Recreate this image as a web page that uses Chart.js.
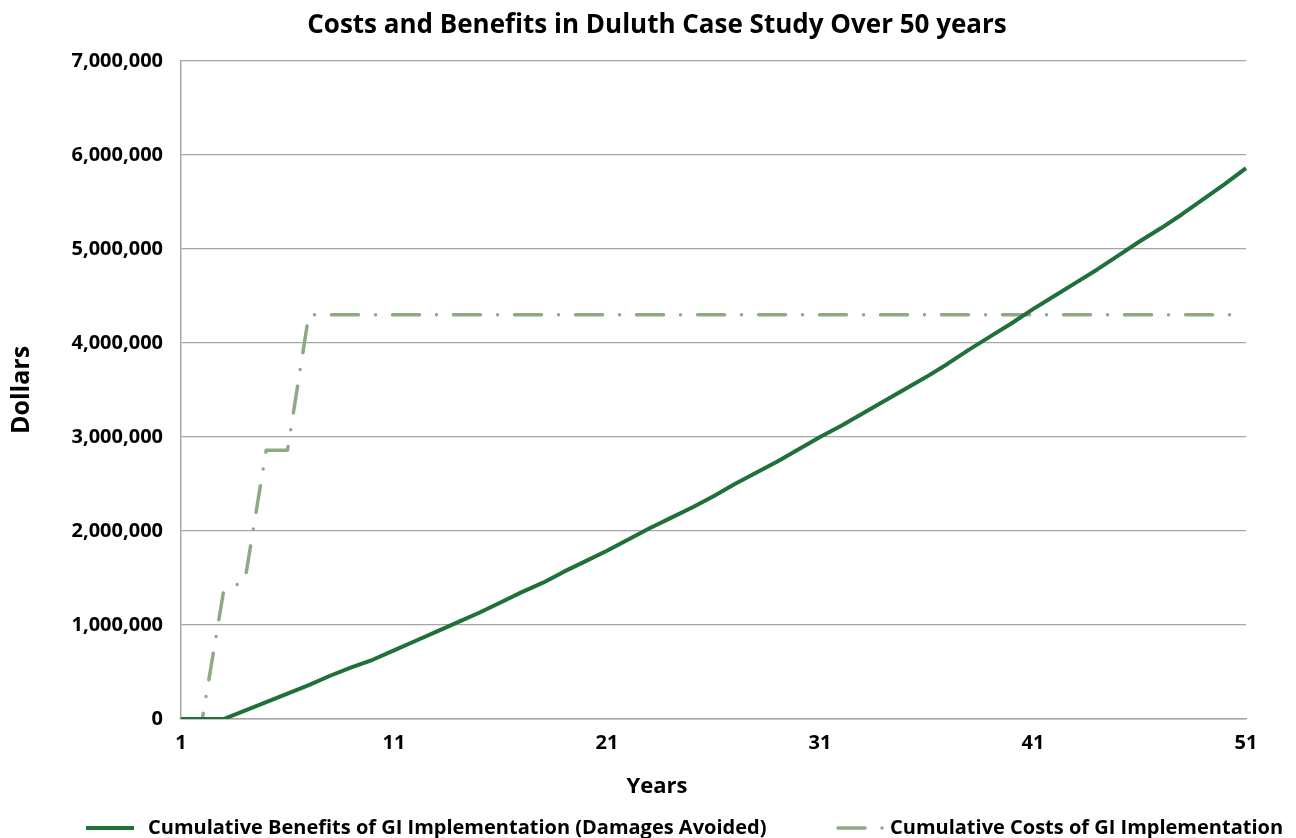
<!DOCTYPE html>
<html>
<head>
<meta charset="utf-8">
<script src="https://cdn.jsdelivr.net/npm/chart.js@4.4.1/dist/chart.umd.min.js"></script>
<style>
  html, body { margin: 0; padding: 0; background: #ffffff; }
  #wrap { width: 1296px; height: 838px; position: relative; }
</style>
</head>
<body>
<div id="wrap"><canvas id="chart"></canvas></div>
<script>
// Years of the study period (category axis)
const years = [
  1, 2, 3, 4, 5, 6, 7, 8, 9, 10,
  11, 12, 13, 14, 15, 16, 17, 18, 19, 20,
  21, 22, 23, 24, 25, 26, 27, 28, 29, 30,
  31, 32, 33, 34, 35, 36, 37, 38, 39, 40,
  41, 42, 43, 44, 45, 46, 47, 48, 49, 50, 51
];

// Cumulative damages avoided (dollars)
const cumulativeBenefits = [
  0, 0, 0, 90000, 180000, 270000, 360000, 460000, 550000, 630000,
  730000, 830000, 930000, 1030000, 1130000, 1240000, 1350000, 1450000, 1570000, 1680000,
  1790000, 1910000, 2030000, 2140000, 2250000, 2370000, 2500000, 2620000, 2740000, 2870000,
  3000000, 3120000, 3250000, 3380000, 3510000, 3640000, 3780000, 3930000, 4070000, 4210000,
  4360000, 4500000, 4640000, 4780000, 4930000, 5080000, 5220000, 5370000, 5530000, 5690000, 5860000
];

// Cumulative implementation costs (dollars)
const cumulativeCosts = [
  0, 0, 1360000, 1470000, 2860000, 2860000, 4300000, 4300000, 4300000, 4300000,
  4300000, 4300000, 4300000, 4300000, 4300000, 4300000, 4300000, 4300000, 4300000, 4300000,
  4300000, 4300000, 4300000, 4300000, 4300000, 4300000, 4300000, 4300000, 4300000, 4300000,
  4300000, 4300000, 4300000, 4300000, 4300000, 4300000, 4300000, 4300000, 4300000, 4300000,
  4300000, 4300000, 4300000, 4300000, 4300000, 4300000, 4300000, 4300000, 4300000, 4300000, 4300000
];

// Y-axis tick values
const yTicks = [0, 1000000, 2000000, 3000000, 4000000, 5000000, 6000000, 7000000];

const FONT = "'Open Sans', 'Liberation Sans', sans-serif";
const GRID = '#a6a6a6';
const fmt = v => v === 0 ? '0' : v.toLocaleString('en-US');

// X-axis caption and legend row under the plot
const bottomTexts = {
  id: 'bottomTexts',
  afterDraw(chart) {
    const ctx = chart.ctx;
    ctx.save();
    ctx.fillStyle = '#000000';
    ctx.font = "bold 22px " + FONT;
    ctx.textAlign = 'center';
    ctx.textBaseline = 'middle';
    ctx.fillText('Years', 657, 787);
    ctx.restore();

    const y = 828;
    const slots = [
      { sampleX: 86, textX: 148 },
      { sampleX: 838, textX: 890 }
    ];
    const sampleLen = 48;
    chart.data.datasets.forEach((ds, i) => {
      const s = slots[i];
      ctx.save();
      ctx.strokeStyle = ds.borderColor;
      ctx.lineWidth = ds.borderWidth;
      ctx.lineCap = ds.borderCapStyle || 'butt';
      ctx.setLineDash(ds.borderDash || []);
      ctx.beginPath();
      ctx.moveTo(s.sampleX, y);
      ctx.lineTo(s.sampleX + sampleLen, y);
      ctx.stroke();
      ctx.setLineDash([]);
      ctx.fillStyle = '#000000';
      ctx.font = "bold 20px " + FONT;
      ctx.textAlign = 'left';
      ctx.textBaseline = 'middle';
      ctx.fillText(ds.label, s.textX, y);
      ctx.restore();
    });
  }
};

new Chart(document.getElementById('chart'), {
  type: 'line',
  data: {
    labels: years,
    datasets: [
      {
        label: 'Cumulative Benefits of GI Implementation (Damages Avoided)',
        data: cumulativeBenefits,
        borderColor: '#1f7139',
        backgroundColor: '#1f7139',
        borderWidth: 4,
        pointRadius: 0,
        tension: 0,
        borderCapStyle: 'butt',
        borderJoinStyle: 'round'
      },
      {
        label: 'Cumulative Costs of GI Implementation',
        data: cumulativeCosts,
        borderColor: '#8eaa85',
        backgroundColor: '#8eaa85',
        borderWidth: 3.5,
        borderDash: [27, 17, 0, 17],
        borderCapStyle: 'round',
        borderJoinStyle: 'round',
        pointRadius: 0,
        tension: 0
      }
    ]
  },
  options: {
    responsive: true,
    maintainAspectRatio: false,
    animation: false,
    layout: { padding: { left: 18, right: 0, top: 10, bottom: 0 } },
    plugins: {
      title: {
        display: true,
        text: 'Costs and Benefits in Duluth Case Study Over 50 years',
        color: '#000000',
        font: { family: FONT, size: 26, weight: 'bold' },
        padding: { top: 0, bottom: 19.8 }
      },
      legend: { display: false },
      tooltip: { enabled: false }
    },
    scales: {
      x: {
        type: 'category',
        afterFit: function (scale) { scale.height = 119; },
        grid: { display: false, drawTicks: false },
        border: { display: true, color: GRID, width: 1.5 },
        ticks: {
          autoSkip: false,
          maxRotation: 0,
          padding: 12,
          color: '#000000',
          font: { family: FONT, size: 20, weight: 'bold' },
          callback: function (value, index) {
            return index % 10 === 0 ? String(years[index]) : null;
          }
        }
      },
      y: {
        min: 0,
        max: 7000000,
        afterFit: function (scale) { scale.width = 163; },
        afterBuildTicks: function (scale) {
          scale.ticks = yTicks.map(v => ({ value: v }));
        },
        grid: { color: GRID, lineWidth: 1.3, drawTicks: false },
        border: { display: true, color: GRID, width: 1.5 },
        title: {
          display: true,
          text: 'Dollars',
          color: '#000000',
          font: { family: FONT, size: 25, weight: 'bold' },
          padding: { top: -11, bottom: 0 }
        },
        ticks: {
          padding: 18,
          color: '#000000',
          font: { family: FONT, size: 20, weight: 'bold' },
          callback: v => fmt(v)
        }
      },
      // empty margin on the right of the plot
      rightMargin: {
        type: 'linear',
        position: 'right',
        min: 0,
        max: 1,
        afterFit: function (scale) { scale.width = 50; },
        grid: { display: false, drawTicks: false },
        border: { display: false },
        ticks: { display: false }
      }
    }
  },
  plugins: [bottomTexts]
});
</script>
</body>
</html>
